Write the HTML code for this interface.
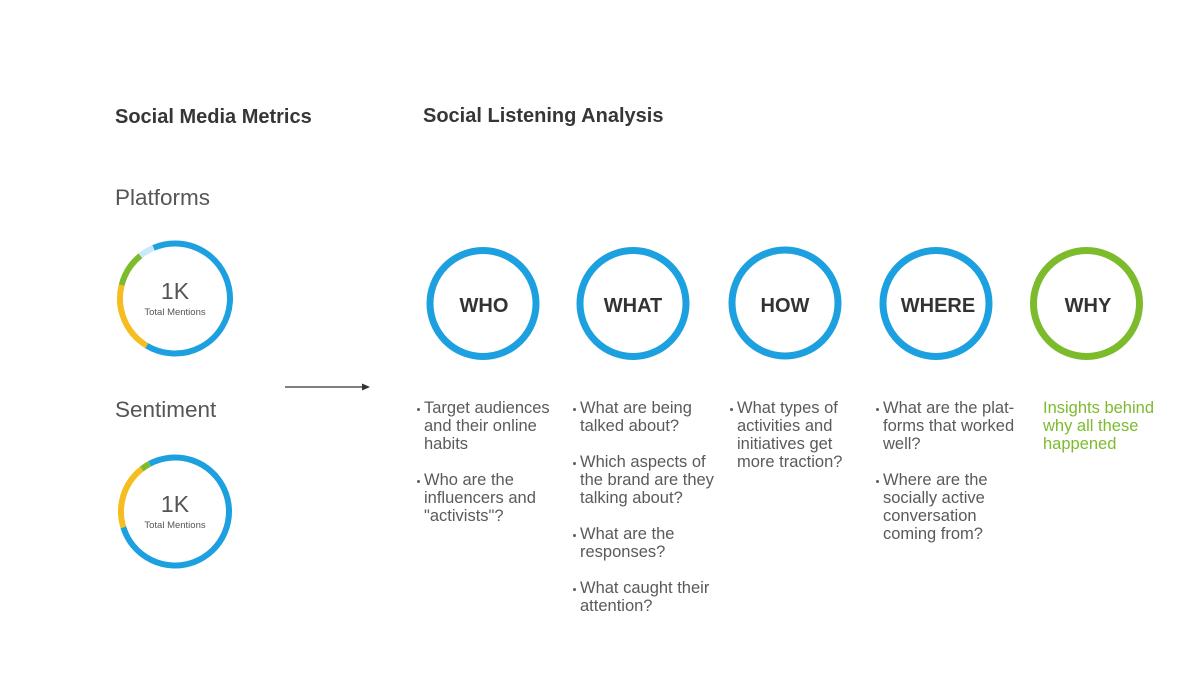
<!DOCTYPE html>
<html>
<head>
<meta charset="utf-8">
<style>
  html,body{margin:0;padding:0;background:#fff;}
  body{width:1199px;height:674px;position:relative;overflow:hidden;font-family:"Liberation Sans",Arial,sans-serif;}
  .abs{position:absolute;white-space:nowrap;}
  .h{font-weight:bold;font-size:20px;color:#363636;}
  .sub{font-size:22.5px;color:#555;}
  .col{position:absolute;top:399px;font-size:16.5px;line-height:18px;color:#5a5a5a;}
  .col p{margin:0 0 18px 0;position:relative;white-space:nowrap;}
  .col p:before{content:"";position:absolute;left:-7px;top:9px;width:2.5px;height:2.5px;border-radius:50%;background:#666;}
  .lab{position:absolute;font-weight:bold;font-size:20px;color:#333;text-align:center;width:120px;top:295px;}
</style>
</head>
<body>
<svg width="1199" height="674" style="position:absolute;left:0;top:0">
  <!-- Platforms donut -->
  <g fill="none" stroke-width="6">
    <path d="M153.51 247.87 A55 55 0 1 1 146.67 345.65" stroke="#1ca0e0"/>
    <path d="M146.67 345.65 A55 55 0 0 1 121.63 285.19" stroke="#f5bd1f"/>
    <path d="M121.63 285.19 A55 55 0 0 1 140.39 255.76" stroke="#7cbb2c"/>
    <path d="M140.39 255.76 A55 55 0 0 1 153.51 247.87" stroke="#c8e9f7"/>
  </g>
  <!-- Sentiment donut -->
  <g fill="none" stroke-width="6">
    <path d="M149.65 463.82 A54 54 0 1 1 123.36 527.29" stroke="#1ca0e0"/>
    <path d="M123.36 527.29 A54 54 0 0 1 141.75 468.95" stroke="#f5bd1f"/>
    <path d="M141.75 468.95 A54 54 0 0 1 149.65 463.82" stroke="#7cbb2c"/>
  </g>
  <!-- arrow -->
  <line x1="285" y1="387" x2="364" y2="387" stroke="#333" stroke-width="1.2"/>
  <polygon points="370,387 362,383.5 362,390.5" fill="#333"/>
  <!-- big circles -->
  <g fill="none" stroke-width="7">
    <circle cx="483" cy="303.5" r="53" stroke="#1ca0e0"/>
    <circle cx="633" cy="303.5" r="53" stroke="#1ca0e0"/>
    <circle cx="785" cy="303" r="53" stroke="#1ca0e0"/>
    <circle cx="936" cy="303.5" r="53" stroke="#1ca0e0"/>
    <circle cx="1086.5" cy="303.5" r="53" stroke="#7cbb2c"/>
  </g>
</svg>

<div class="abs h" style="left:115px;top:106px;">Social Media Metrics</div>
<div class="abs h" style="left:423px;top:105px;">Social Listening Analysis</div>
<div class="abs sub" style="left:115px;top:185px;">Platforms</div>
<div class="abs sub" style="left:115px;top:397px;">Sentiment</div>

<div class="abs" style="left:135px;top:278px;width:80px;text-align:center;font-size:23px;color:#555;">1K</div>
<div class="abs" style="left:125px;top:307px;width:100px;text-align:center;font-size:9.5px;color:#555;">Total Mentions</div>
<div class="abs" style="left:135px;top:491px;width:80px;text-align:center;font-size:23px;color:#555;">1K</div>
<div class="abs" style="left:125px;top:520px;width:100px;text-align:center;font-size:9.5px;color:#555;">Total Mentions</div>

<div class="lab" style="left:424px;">WHO</div>
<div class="lab" style="left:573px;">WHAT</div>
<div class="lab" style="left:725px;">HOW</div>
<div class="lab" style="left:878px;">WHERE</div>
<div class="lab" style="left:1028px;">WHY</div>

<div class="col" style="left:424px;">
  <p>Target audiences<br>and their online<br>habits</p>
  <p>Who are the<br>influencers and<br>"activists"?</p>
</div>
<div class="col" style="left:580px;">
  <p>What are being<br>talked about?</p>
  <p>Which aspects of<br>the brand are they<br>talking about?</p>
  <p>What are the<br>responses?</p>
  <p>What caught their<br>attention?</p>
</div>
<div class="col" style="left:737px;">
  <p>What types of<br>activities and<br>initiatives get<br>more traction?</p>
</div>
<div class="col" style="left:883px;">
  <p>What are the plat-<br>forms that worked<br>well?</p>
  <p>Where are the<br>socially active<br>conversation<br>coming from?</p>
</div>
<div class="col" style="left:1043px;color:#7cbb2c;">
  <div>Insights behind<br>why all these<br>happened</div>
</div>
</body>
</html>
